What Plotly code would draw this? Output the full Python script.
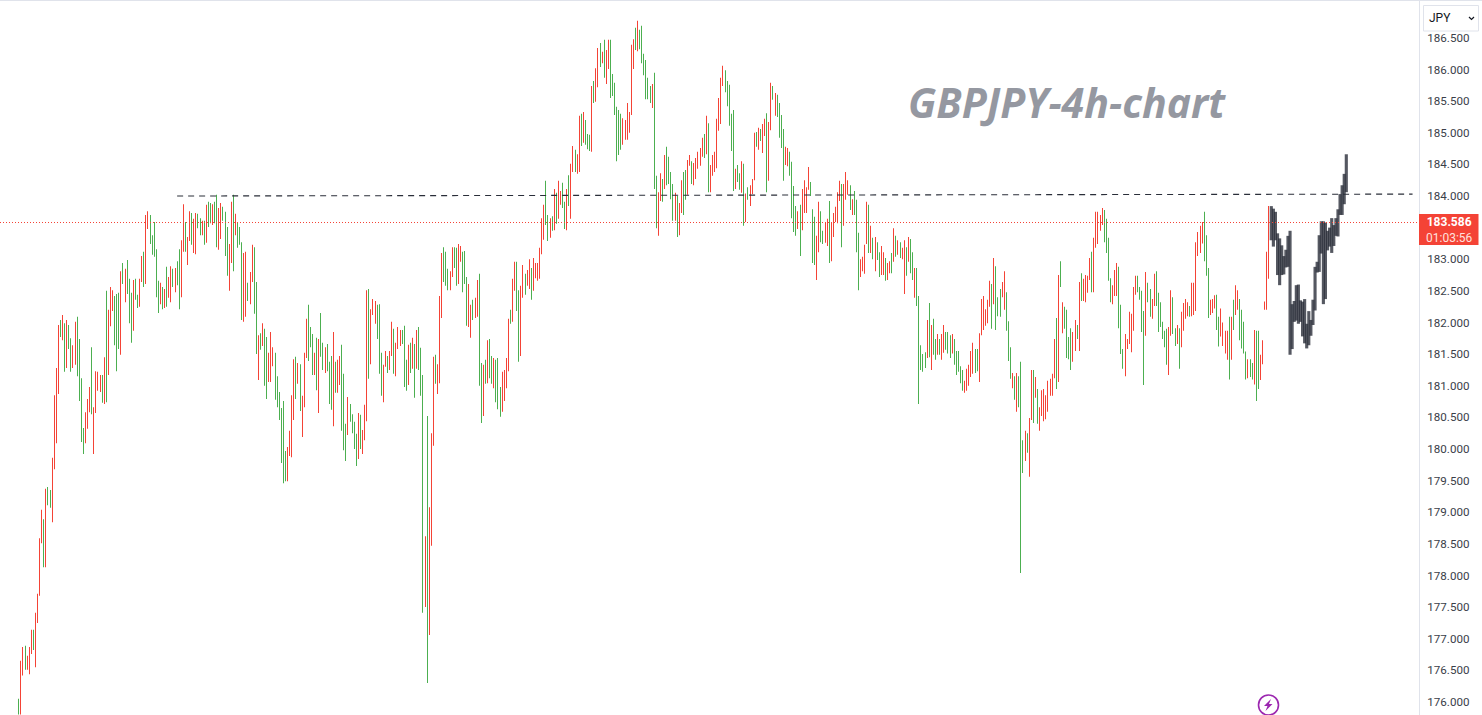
import plotly.graph_objects as go

# GBPJPY 4h bars: high, low, direction
highs = [
    176.05, 176.65, 176.87, 176.89, 176.73, 176.87, 177.14, 177.14, 177.41, 177.71,
    178.59, 179.04, 178.89, 179.37, 179.40, 179.35, 179.86, 180.85, 181.28, 181.96,
    182.04, 182.12, 181.99, 182.04, 181.96, 181.75, 181.64, 182.01, 182.09, 181.74,
    181.12, 180.33, 180.58, 180.79, 180.98, 181.61, 180.66, 181.23, 181.22, 181.17,
    181.17, 181.45, 182.50, 182.20, 182.56, 182.51, 182.42, 182.45, 182.47, 182.81,
    182.94, 182.85, 182.99, 182.69, 182.47, 182.67, 182.69, 182.44, 182.69, 183.05,
    183.12, 183.70, 183.76, 183.70, 183.38, 183.59, 183.16, 182.66, 182.63, 182.56,
    182.53, 182.88, 182.72, 182.89, 182.85, 182.86, 182.97, 183.16, 183.30, 183.87,
    183.59, 183.35, 183.76, 183.73, 183.64, 183.73, 183.72, 183.65, 183.61, 183.61,
    183.86, 183.91, 183.89, 183.87, 183.91, 184.02, 183.81, 183.89, 183.83, 183.75,
    183.51, 183.24, 183.91, 184.02, 183.72, 183.59, 183.51, 183.27, 183.10, 183.12,
    182.63, 182.80, 183.23, 183.19, 182.64, 181.80, 181.83, 181.99, 181.90, 181.77,
    181.52, 181.85, 181.61, 181.52, 181.15, 180.90, 180.65, 180.76, 179.97, 180.03,
    180.29, 180.85, 181.42, 181.46, 181.36, 181.34, 180.84, 181.52, 182.06, 182.28,
    181.93, 181.82, 181.52, 181.76, 181.74, 182.15, 181.68, 181.61, 181.66, 181.38,
    181.47, 181.85, 181.38, 181.41, 181.47, 181.65, 181.19, 180.40, 180.82, 180.71,
    180.55, 180.43, 180.24, 180.57, 180.54, 180.30, 180.70, 182.51, 182.53, 182.21,
    182.37, 182.34, 182.28, 182.29, 181.52, 181.33, 181.55, 181.47, 181.55, 182.01,
    181.90, 181.68, 181.93, 181.88, 181.88, 181.95, 181.41, 181.65, 181.68, 181.76,
    181.66, 181.88, 181.93, 181.60, 181.17, 178.62, 180.52, 179.08, 180.25, 181.46,
    181.49, 181.34, 182.42, 183.10, 183.19, 183.12, 182.85, 182.81, 183.19, 183.19,
    183.18, 183.24, 183.21, 183.12, 183.13, 182.72, 182.61, 182.28, 182.36, 182.39,
    182.67, 182.77, 181.36, 181.33, 181.41, 181.72, 181.74, 181.47, 181.44, 181.41,
    181.44, 180.98, 181.22, 181.25, 181.44, 182.06, 182.20, 182.69, 182.96, 182.96,
    182.51, 182.58, 182.91, 182.77, 182.83, 183.00, 182.86, 183.02, 182.94, 182.94,
    183.18, 183.65, 183.86, 184.24, 183.70, 183.65, 183.68, 184.11, 184.05, 184.24,
    184.08, 184.21, 183.91, 184.11, 184.33, 184.51, 184.79, 184.73, 184.66, 185.27,
    185.30, 185.33, 185.20, 184.98, 184.97, 185.74, 185.82, 186.02, 186.34, 186.42,
    186.28, 186.47, 186.31, 186.47, 186.47, 185.93, 185.79, 185.41, 185.36, 185.30,
    185.23, 185.20, 185.47, 185.33, 186.39, 186.48, 186.66, 186.77, 186.63, 186.69,
    186.25, 186.15, 185.87, 185.74, 185.77, 185.95, 184.32, 184.06, 184.36, 184.27,
    184.65, 184.78, 184.62, 184.38, 184.19, 184.05, 184.00, 183.89, 184.25, 184.38,
    184.41, 184.57, 184.65, 184.55, 184.52, 184.60, 184.70, 184.76, 184.92, 184.98,
    185.27, 185.15, 184.49, 184.65, 184.70, 185.22, 185.55, 185.87, 186.06, 185.99,
    185.82, 185.76, 185.30, 185.36, 184.43, 184.49, 184.36, 184.55, 184.51, 184.04,
    184.14, 184.17, 184.27, 185.00, 185.01, 185.08, 185.06, 185.14, 185.22, 185.31,
    185.17, 185.79, 185.74, 185.63, 185.60, 185.47, 185.28, 185.06, 184.78, 184.76,
    184.70, 184.54, 184.16, 183.84, 183.76, 183.86, 184.11, 184.25, 184.14, 184.46,
    184.22, 183.79, 183.67, 183.37, 183.91, 183.76, 183.45, 183.59, 183.64, 183.92,
    183.59, 183.73, 183.83, 184.06, 184.24, 184.19, 184.19, 184.38, 184.25, 184.17,
    183.95, 184.08, 183.94, 183.42, 183.00, 183.04, 183.23, 183.91, 183.86, 183.53,
    183.34, 183.35, 183.27, 183.11, 183.21, 183.11, 183.02, 182.94, 182.97, 183.10,
    183.49, 183.37, 183.30, 183.27, 183.18, 183.30, 183.19, 183.35, 183.32, 183.11,
    182.86, 182.86, 182.42, 181.64, 181.50, 181.53, 182.04, 182.31, 181.96, 182.06,
    181.74, 181.82, 181.74, 181.82, 181.96, 181.85, 181.85, 181.80, 181.82, 181.74,
    181.55, 181.55, 181.31, 181.25, 181.08, 181.27, 181.33, 181.55, 181.68, 181.58,
    181.58, 181.83, 182.37, 182.42, 182.21, 182.36, 182.66, 182.61, 183.02, 182.89,
    182.40, 182.53, 182.64, 182.81, 182.48, 182.02, 181.61, 181.20, 181.15, 181.20,
    181.15, 181.38, 180.14, 180.29, 180.25, 180.49, 181.25, 181.25, 181.14, 180.95,
    180.66, 180.93, 180.95, 180.85, 181.08, 181.11, 181.19, 181.74, 182.07, 182.75,
    182.97, 182.32, 182.25, 182.20, 181.77, 181.91, 181.85, 182.04, 181.96, 182.64,
    182.78, 182.69, 182.75, 182.74, 183.02, 183.12, 183.34, 183.75, 183.75, 183.70,
    183.81, 183.78, 183.64, 183.34, 182.70, 182.59, 182.83, 182.94, 182.88, 182.28,
    181.58, 181.82, 181.74, 182.17, 182.14, 182.56, 182.74, 182.74, 182.56, 182.50,
    182.18, 182.80, 182.63, 182.53, 182.37, 182.77, 182.81, 182.47, 182.32, 182.01,
    181.87, 181.90, 181.93, 182.51, 182.40, 181.91, 181.96, 181.91, 182.17, 182.31,
    182.37, 182.32, 182.26, 182.63, 182.63, 183.27, 183.43, 183.53, 183.59, 183.75,
    183.38, 182.86, 182.36, 182.37, 182.43, 182.44, 182.09, 182.22, 182.00, 181.87,
    181.87, 182.09, 182.09, 182.36, 182.59, 182.51, 182.37, 182.20, 182.01, 181.54,
    181.42, 181.42, 181.36, 181.88, 181.87, 181.87, 181.49, 181.72, 182.33, 183.12,
    183.84,
]
lows = [
    175.80, 175.80, 176.42, 176.51, 176.51, 176.44, 176.76, 176.82, 176.55, 177.25,
    177.68, 178.51, 178.13, 178.13, 179.11, 179.07, 178.84, 179.68, 180.09, 180.87,
    181.77, 181.72, 181.22, 181.28, 181.58, 181.22, 181.28, 181.33, 181.15, 180.76,
    180.11, 179.92, 180.09, 180.32, 180.58, 180.55, 179.92, 180.57, 180.92, 180.90,
    180.73, 180.71, 180.74, 181.17, 181.94, 182.18, 181.64, 181.23, 181.58, 181.49,
    182.61, 182.32, 182.45, 181.99, 181.68, 181.87, 182.36, 182.23, 182.25, 182.64,
    182.56, 182.61, 183.48, 183.24, 183.07, 183.04, 182.40, 182.15, 182.29, 182.21,
    182.23, 182.25, 182.39, 182.32, 182.56, 182.48, 182.59, 182.21, 182.40, 183.12,
    183.12, 182.91, 183.29, 183.23, 183.10, 183.08, 183.49, 183.38, 183.38, 183.23,
    183.26, 183.51, 183.57, 183.54, 183.57, 183.19, 183.15, 183.32, 183.61, 183.05,
    182.74, 182.50, 182.94, 182.81, 183.38, 183.18, 183.23, 182.04, 182.01, 182.09,
    182.34, 182.29, 182.64, 182.14, 181.50, 181.09, 181.57, 181.63, 181.00, 180.79,
    181.06, 181.06, 181.31, 180.78, 180.66, 180.46, 179.78, 179.46, 179.49, 179.49,
    179.89, 179.87, 180.46, 180.79, 181.03, 180.60, 180.19, 180.66, 181.44, 181.39,
    181.61, 181.17, 181.17, 180.93, 180.57, 181.46, 181.25, 181.20, 181.23, 180.71,
    180.62, 180.36, 180.89, 180.89, 181.01, 180.29, 179.98, 179.81, 180.22, 180.43,
    180.25, 180.00, 179.73, 179.84, 180.00, 179.92, 180.14, 180.44, 181.11, 181.34,
    182.12, 181.98, 181.74, 181.19, 180.84, 180.74, 181.30, 181.20, 181.25, 181.47,
    181.19, 181.15, 181.58, 181.63, 181.66, 180.98, 180.92, 181.01, 181.20, 181.27,
    180.81, 181.27, 181.25, 180.84, 177.41, 177.50, 176.30, 177.06, 178.47, 180.05,
    181.03, 180.87, 181.04, 182.07, 182.64, 182.58, 182.51, 182.51, 182.72, 182.86,
    182.58, 182.61, 182.96, 182.48, 182.61, 181.95, 181.93, 181.76, 182.04, 182.07,
    182.09, 181.00, 180.41, 180.52, 181.03, 181.04, 181.12, 181.03, 180.96, 180.74,
    180.63, 180.51, 180.59, 180.76, 180.96, 181.23, 181.98, 182.01, 182.50, 182.18,
    181.38, 181.47, 182.39, 182.44, 182.58, 182.53, 182.36, 182.50, 182.70, 182.66,
    182.69, 183.08, 183.31, 183.54, 183.29, 183.34, 183.45, 183.46, 183.56, 183.64,
    183.86, 183.81, 183.48, 183.46, 183.84, 183.64, 184.38, 184.38, 184.35, 184.38,
    184.79, 184.84, 184.81, 184.74, 184.71, 184.70, 185.47, 185.49, 185.72, 186.04,
    186.10, 185.87, 185.77, 186.01, 185.55, 185.58, 185.28, 184.55, 184.65, 184.73,
    184.81, 184.89, 184.89, 185.00, 185.28, 186.01, 186.31, 186.29, 186.32, 186.10,
    185.91, 185.53, 185.53, 185.47, 185.39, 184.11, 183.49, 183.37, 183.92, 183.91,
    184.11, 184.17, 184.19, 183.95, 183.61, 183.61, 183.35, 183.38, 183.73, 183.70,
    183.94, 184.02, 184.48, 184.19, 184.17, 184.27, 184.43, 184.48, 184.62, 184.60,
    184.66, 184.06, 184.06, 184.32, 184.38, 184.44, 185.03, 185.14, 185.74, 185.64,
    185.42, 185.11, 184.71, 184.08, 184.11, 184.22, 184.10, 184.05, 183.53, 183.59,
    183.94, 183.84, 184.03, 184.25, 184.78, 184.73, 184.87, 184.68, 184.95, 184.06,
    184.24, 185.04, 185.52, 185.27, 185.25, 184.92, 184.76, 184.24, 184.49, 184.47,
    184.32, 183.65, 183.43, 183.37, 183.48, 183.05, 183.46, 183.73, 183.73, 184.10,
    184.00, 182.94, 182.91, 182.67, 183.11, 183.27, 183.24, 183.26, 183.21, 182.94,
    182.97, 183.35, 183.59, 183.57, 183.92, 183.19, 183.53, 183.94, 184.02, 183.78,
    183.70, 183.70, 183.11, 182.51, 182.72, 182.81, 182.77, 183.24, 183.10, 183.10,
    183.00, 182.81, 182.99, 182.72, 182.75, 182.75, 182.66, 182.67, 182.78, 182.78,
    182.96, 183.04, 183.07, 183.02, 183.00, 182.45, 182.74, 182.96, 182.78, 182.67,
    182.39, 182.26, 180.71, 181.25, 181.22, 181.28, 181.44, 181.45, 181.25, 181.49,
    181.41, 181.49, 181.49, 181.41, 181.52, 181.57, 181.51, 181.44, 181.51, 181.33,
    181.17, 181.22, 181.04, 180.92, 180.89, 180.92, 181.00, 181.14, 181.19, 181.20,
    181.23, 181.06, 181.80, 181.88, 181.95, 181.99, 182.25, 181.90, 182.29, 181.88,
    182.10, 182.09, 182.40, 182.20, 181.87, 181.39, 181.11, 180.96, 180.78, 180.59,
    180.66, 178.04, 179.62, 179.81, 179.94, 179.56, 180.46, 180.41, 180.81, 180.40,
    180.29, 180.52, 180.44, 180.47, 180.59, 180.84, 180.84, 181.12, 180.95, 181.06,
    182.56, 181.83, 181.90, 181.44, 181.42, 181.25, 181.38, 181.55, 181.74, 181.55,
    182.34, 182.34, 182.32, 182.47, 182.67, 182.48, 182.48, 183.18, 183.24, 183.45,
    183.54, 183.27, 183.10, 182.66, 182.32, 182.29, 182.42, 182.42, 181.91, 181.50,
    181.27, 181.15, 181.58, 181.66, 181.53, 181.87, 182.44, 182.48, 182.36, 181.85,
    181.01, 181.79, 182.32, 182.09, 182.06, 182.26, 182.26, 181.85, 181.93, 181.74,
    181.61, 181.33, 181.17, 181.79, 181.82, 181.63, 181.66, 181.27, 181.61, 181.87,
    182.06, 182.10, 182.09, 182.10, 182.12, 182.18, 183.05, 183.10, 183.25, 182.97,
    182.74, 182.07, 182.12, 182.15, 182.22, 181.88, 181.62, 181.78, 181.63, 181.51,
    181.41, 181.10, 181.41, 181.88, 182.12, 182.20, 181.72, 181.59, 181.51, 181.10,
    181.12, 181.14, 181.10, 181.02, 180.76, 180.95, 181.09, 181.34, 182.20, 182.20,
    182.69,
]
# U closes up (green), D closes down (red)
dirs = (
    "UDDUDDDUDD" "DDUDUUDDDD" "UDUDUUDDUU" "UUDDDUDDDD"
    "UDUDDDUUUD" "UDUUUDUUDD" "UDDUUUUUDU" "DUDDUDUUDD"
    "UDDUDDUUDU" "DUUDUUDDUU" "UDDUDUUUDD" "UDDUUDUDUU"
    "DDDUUUUUUD" "DDDUDUDDDU" "UUDUDUUDUU" "UDUDDUUUDU"
    "UUUDUDDDUD" "DDUUUDDUDD" "UDDDUUUDUD" "UDUUUDUDDD"
    "UDDDUUUDDU" "UDDUUUDDUD" "DUUDUDUUDU" "UUDDDDUDDU"
    "UDDUDDUDDD" "DDDUUDUDUD" "DUUDUDDUDD" "UDUUUDUDDU"
    "DUDDUUUUUU" "DDDDDDUDUU" "UUUUDUUDDU" "DUUUUDUDDU"
    "UDDUDDDDDU" "DUDDDDDDDU" "UUUUDUUDUD" "UDDDUDUDDU"
    "DDUDUUUUDD" "UUUUDUDDDD" "UUUDDUUDDU" "DDDDDUDDDU"
    "DUUUDDDDUD" "UDUUDDUDDU" "DUDUDDUDUU" "DUUUUUDUDU"
    "UDUDDUUUDU" "UUUUDDDDDU" "UDDDDDDUDU" "UUDDUUUDUD"
    "UUUDUDDUDU" "DDDDDDDDUD" "UDUUUUDDUD" "UDDDDUDDDD"
    "DUUUUDDDUU" "UDDDDDDUUU" "UDUUDDUUUU" "UUDDUUDUDD"
    "DDUDDDDDDU" "UUDDDUUDDD" "DUDUDDUUUU" "DUUDUUDDDD"
    "D"
)

# the dark bars pattern drawn over the last stretch
drawn_highs = [
    183.84, 183.80, 183.75, 183.41, 183.33, 183.22, 183.05, 183.15, 183.37, 183.45,
    182.29, 182.34, 182.59, 182.60, 182.35, 182.33, 182.37, 181.98, 182.18, 182.04,
    182.36, 182.88, 182.96, 183.38, 183.60, 183.60, 183.58, 183.45, 183.50, 183.65,
    183.54, 183.65, 183.79, 184.03, 184.17, 184.35, 184.66,
]
drawn_lows = [
    183.30, 183.20, 183.30, 182.75, 182.59, 182.75, 182.76, 182.87, 182.88, 181.49,
    181.58, 182.01, 182.03, 181.98, 182.01, 181.78, 181.67, 181.59, 181.64, 181.79,
    181.96, 182.19, 182.79, 182.80, 183.09, 182.29, 182.37, 183.14, 183.20, 183.10,
    183.21, 183.37, 183.36, 183.70, 183.70, 183.87, 184.06,
]

level_x = [76, 669]
level_y = [184.00, 184.03]
last_price = 183.586
countdown = "01:03:56"
# 183.500 sits behind the price label in the original, so it is left out
tick_vals = [v for v in (176 + 0.5 * i for i in range(22)) if v != 183.5]
tick_text = ["%.3f" % v for v in tick_vals]

W = 1482
H = 715
RIGHT = 63
PLOT_W = W - RIGHT
GREEN = "#4caf50"
RED = "#f44336"
DARK = "#2a2e39"
LINE = "#e0e3eb"


def px(x):
    return x / PLOT_W


def py(y):
    return 1 - y / H


def path(points):
    return "M" + " L".join("%.5f,%.5f" % (px(x), py(y)) for x, y in points)


colors = [GREEN if d == "U" else RED for d in dirs]
idx = list(range(len(highs)))
drawn_idx = [len(highs) + 0.2 + i for i in range(len(drawn_highs))]

fig = go.Figure()
# very thin on purpose: plotly widens a sliver to the whole pixel it sits in
fig.add_trace(go.Bar(
    x=idx,
    y=[h - l for h, l in zip(highs, lows)],
    base=lows,
    width=0.02,
    marker=dict(color=colors, line=dict(width=0)),
    hoverinfo="skip",
))
fig.add_trace(go.Bar(
    x=drawn_idx,
    y=[h - l for h, l in zip(drawn_highs, drawn_lows)],
    base=drawn_lows,
    width=1.5,
    marker=dict(color="rgba(42,46,57,0.8)", line=dict(width=0)),
    hoverinfo="skip",
))
fig.add_trace(go.Scatter(
    x=level_x,
    y=level_y,
    mode="lines",
    line=dict(color=DARK, width=1.1, dash="6px,5px"),
    hoverinfo="skip",
))

shapes = [
    dict(type="line", xref="paper", yref="paper", x0=0, x1=1, y0=py(222.5), y1=py(222.5),
         line=dict(color=RED, width=1, dash="1px,2px")),
    dict(type="line", xref="paper", yref="paper", x0=0, x1=px(W), y0=py(0.5), y1=py(0.5),
         line=dict(color=LINE, width=1)),
    # currency button, with the white strip that cuts the top tick label
    dict(type="rect", xref="paper", yref="paper", x0=px(1420), x1=px(W), y0=py(1), y1=py(34),
         fillcolor="white", line=dict(width=0)),
    dict(type="rect", xref="paper", yref="paper", x0=px(1423.5), x1=px(1478.5), y0=py(5.5), y1=py(31),
         fillcolor="white", line=dict(color=LINE, width=1)),
    dict(type="path", xref="paper", yref="paper",
         path=path([(1469, 17), (1471.5, 19.5), (1474, 17)]),
         line=dict(color="#131722", width=1.2)),
    # price label
    dict(type="rect", xref="paper", yref="paper", x0=px(1419), x1=px(1478.5), y0=py(214), y1=py(245),
         fillcolor=RED, line=dict(width=0)),
    # bolt badge
    dict(type="circle", xref="paper", yref="paper", x0=px(1258.5), x1=px(1278.5), y0=py(695), y1=py(715),
         line=dict(color="#9c27b0", width=1.6)),
    dict(type="path", xref="paper", yref="paper",
         path=path([(1271, 699), (1264, 706), (1267.5, 706), (1265.5, 711), (1272.5, 704), (1269, 704)]) + " Z",
         fillcolor="#9c27b0", line=dict(width=0)),
]

annotations = [
    dict(text="<b><i>GBPJPY-4h-chart</i></b>", xref="paper", yref="paper", x=px(1067), y=py(102),
         xanchor="center", yanchor="middle", showarrow=False,
         font=dict(family="Open Sans", size=41, color="#9598a1")),
    dict(text="JPY", xref="paper", yref="paper", x=px(1427), y=py(18),
         xanchor="left", yanchor="middle", showarrow=False,
         font=dict(family="Roboto", size=12, color="#131722")),
    dict(text="<b>%.3f</b><br><span style='color:#ffe0dd'>%s</span>" % (last_price, countdown),
         xref="paper", yref="paper", x=px(1449), y=py(229.5),
         xanchor="center", yanchor="middle", showarrow=False,
         font=dict(family="Roboto", size=12, color="white")),
]

fig.update_layout(
    width=W,
    height=H,
    margin=dict(l=0, r=RIGHT, t=0, b=0),
    paper_bgcolor="white",
    plot_bgcolor="white",
    barmode="overlay",
    showlegend=False,
    shapes=shapes,
    annotations=annotations,
    xaxis=dict(visible=False, range=[-9.024, 672.096]),
    yaxis=dict(
        side="right",
        range=[175.794, 187.099],
        tickvals=tick_vals,
        ticktext=tick_text,
        showgrid=False,
        zeroline=False,
        showline=True,
        linecolor=LINE,
        linewidth=1,
        ticks="",
        ticklabelstandoff=5,
        tickfont=dict(family="Roboto", size=11.6, color="#3a3e49"),
    ),
)

fig.write_html(
    "out.html",
    config={"displayModeBar": False},
    post_script="document.body.style.margin='0';document.body.style.overflow='hidden';",
)
